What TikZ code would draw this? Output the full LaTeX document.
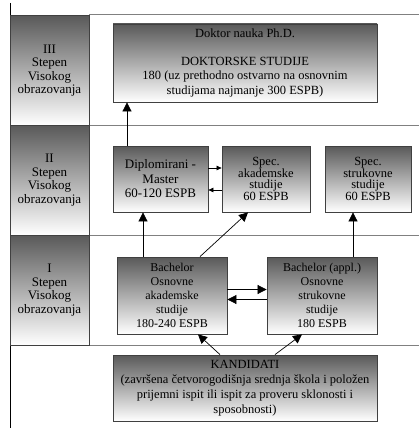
\documentclass[tikz,border=0pt]{standalone}
\usepackage{fontspec}
\setmainfont{Liberation Serif}
\usetikzlibrary{arrows.meta}

\begin{document}
\begin{tikzpicture}[x=1pt,y=-1pt,
	box/.style={draw=black!75,line width=0.8pt,top color=black!65,bottom color=white,
		align=center,inner sep=0pt,font=\fontsize{12.5}{14}\selectfont},
	stepen/.style={box,minimum width=79pt,minimum height=110pt,font=\fontsize{13}{13.5}\selectfont},
	arr/.style={-{Triangle[length=9pt,width=9pt]},line width=0.7pt},
	arrs/.style={-{Triangle[length=5pt,width=4.5pt]},line width=0.6pt},
	sep/.style={gray,line width=1pt}]

	\useasboundingbox (0,0) rectangle (419,428);

	% linije izmedju stepena
	\draw[line width=0.8pt] (10,3) -- (10,428);
	\draw[sep] (89,15) -- (419,15);
	\draw[sep] (89,125) -- (419,125);
	\draw[sep] (89,235) -- (419,235);
	\draw[sep] (10,345) -- (419,345);

	% stepeni
	\node[stepen] (tierIII) at (49.5,70.5) {III\\Stepen\\Visokog\\obrazovanja};
	\node[stepen] (tierII) at (49.5,180) {II\\Stepen\\Visokog\\obrazovanja};
	\node[stepen] (tierI) at (49.5,290) {I\\Stepen\\Visokog\\obrazovanja};

	% studije
	\node[box,minimum width=264pt,minimum height=78pt,font=\fontsize{12.5}{14.5}\selectfont]
		(doktor) at (245,63) {Doktor nauka Ph.D.\\[13pt]DOKTORSKE STUDIJE\\180 (uz prethodno ostvarno na osnovnim\\studijama najmanje 300 ESPB)};
	\node[box,minimum width=95pt,minimum height=66pt,font=\fontsize{13}{14.5}\selectfont]
		(master) at (160.5,179) {Diplomirani -\\Master\\60-120 ESPB};
	\node[box,minimum width=88pt,minimum height=66pt,font=\fontsize{12.5}{11.7}\selectfont]
		(specak) at (266,179) {Spec.\\akademske\\studije\\60 ESPB};
	\node[box,minimum width=86pt,minimum height=66pt,font=\fontsize{12.5}{11.7}\selectfont]
		(specstr) at (368,179) {Spec.\\strukovne\\studije\\60 ESPB};
	\node[box,minimum width=110pt,minimum height=77pt,font=\fontsize{12}{14}\selectfont]
		(bach) at (172,295.5) {Bachelor\\Osnovne\\akademske\\studije\\180-240 ESPB};
	\node[box,minimum width=110pt,minimum height=77pt,font=\fontsize{12}{14}\selectfont]
		(bachapp) at (322,295.5) {Bachelor (appl.)\\Osnovne\\strukovne\\studije\\180 ESPB};
	\node[box,minimum width=264pt,minimum height=66pt,font=\fontsize{12.5}{15}\selectfont]
		(kand) at (245,388) {KANDIDATI\\(završena četvorogodišnja srednja škola i položen\\prijemni ispit ili ispit za proveru sklonosti i\\sposobnosti)};

	% strelice
	\draw[arr] ([xshift=-33.5pt]master.north) -- ([xshift=-33.5pt]master.north |- doktor.south);
	\draw[arrs] ([yshift=11pt]master.east) -- ([yshift=11pt]master.east -| specak.west);
	\draw[arrs] ([yshift=-11pt]specak.west) -- ([yshift=-11pt]specak.west -| master.east);
	\draw[arr] ([xshift=-29pt]bach.north) -- ([xshift=-29pt]bach.north |- master.south);
	\draw[arr] ([xshift=28pt]bach.north) -- ([xshift=-18pt]specak.south);
	\draw[arr] ([xshift=31pt]bachapp.north) -- ([xshift=31pt]bachapp.north |- specstr.south);
	\draw[arr] ([yshift=6pt]bach.east) -- ([yshift=6pt]bach.east -| bachapp.west);
	\draw[arr] ([yshift=-4pt]bachapp.west) -- ([yshift=-4pt]bachapp.west -| bach.east);
	\draw[arr] ([xshift=-25pt]kand.north) -- ([xshift=26pt]bach.south);
	\draw[arr] ([xshift=30pt]kand.north) -- ([xshift=-20pt]bachapp.south);

\end{tikzpicture}
\end{document}
